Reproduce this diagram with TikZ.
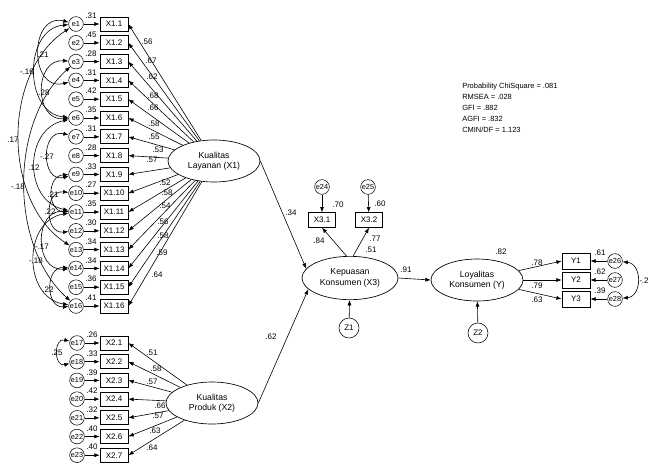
\documentclass[tikz,border=0pt]{standalone}
\usepackage{fontspec}
\setmainfont{Liberation Sans}
\usetikzlibrary{shapes.geometric,arrows.meta}
\begin{document}
\begin{tikzpicture}[x=0.75pt,y=-0.75pt,
  box/.style={draw, line width=0.5pt, minimum width=21pt, minimum height=10.5pt, inner sep=0pt, font=\fontsize{6}{6}\selectfont},
  err/.style={draw, line width=0.4pt, circle, minimum size=11pt, inner sep=0pt, font=\fontsize{5.5}{5.5}\selectfont},
  lat/.style={draw, line width=0.5pt, ellipse, minimum width=69pt, minimum height=31.5pt, inner sep=0pt, align=center, font=\fontsize{6.5}{7.8}\selectfont},
  lbl/.style={inner sep=0pt, font=\fontsize{6}{6}\selectfont},
  arr/.style={-{Latex[length=4pt,width=3pt]}, line width=0.45pt},
  cov/.style={{Latex[length=4pt,width=3pt]}-{Latex[length=4pt,width=3pt]}, line width=0.45pt}
]
\useasboundingbox (0,0) rectangle (649,464);

% ---- latent variables
\node[lat] (lay) at (214,161) {Kualitas\\Layanan (X1)};
\node[lat] (prod) at (212,403) {Kualitas\\Produk (X2)};
\node[lat, minimum width=72pt, minimum height=32.5pt] (kep) at (350,278) {Kepuasan\\Konsumen (X3)};
\node[lat] (loy) at (477,280) {Loyalitas\\Konsumen (Y)};

% ---- X1 indicators
\foreach \i/\v in {1/.31,2/.45,3/.28,4/.31,5/.42,6/.35,7/.31,8/.28,9/.33,10/.27,11/.35,12/.30,13/.34,14/.34,15/.36,16/.41} {
  \pgfmathsetmacro\yy{24+(\i-1)*18.8}
  \node[box] (xa\i) at (114,\yy) {X1.\i};
  \node[err] (ea\i) at (76,\yy) {e\i};
  \draw[arr] (ea\i) -- (xa\i);
  \node[lbl] (va\i) at (91,\yy-8) {\v};
  \draw[arr] (lay) -- (xa\i.east);
}
\foreach \i/\px/\py/\v in {1/147/42/.56,2/151/61/.67,3/152/77/.62,4/153/96/.68,5/153/108/.66,6/154/124/.58,7/154/137/.55,8/158/150/.53,9/152/160/.57,10/165/183/.52,11/167/193/.58,12/165/206/.54,13/163/222/.56,14/163/236/.58,15/162/253/.59,16/157/275/.64}
  \node[lbl] (la\i) at (\px,\py) {\v};

% ---- X2 indicators
\foreach \i/\v in {1/.26,2/.33,3/.39,4/.42,5/.32,6/.40,7/.40} {
  \pgfmathsetmacro\yy{343+(\i-1)*18.7}
  \pgfmathtruncatemacro\en{\i+16}
  \node[box] (xb\i) at (114,\yy) {X2.\i};
  \node[err] (eb\i) at (77,\yy) {e\en};
  \draw[arr] (eb\i) -- (xb\i);
  \node[lbl] (vb\i) at (92,\yy-8) {\v};
  \draw[arr] (prod) -- (xb\i.east);
}
\foreach \i/\px/\py/\v in {1/152/353/.51,2/156/369/.58,3/152/382/.57,4/160/406/.66,5/158/416/.57,6/155/431/.63,7/152/448/.64}
  \node[lbl] (lb\i) at (\px,\py) {\v};

% ---- covariances among errors
\draw[cov] (ea1) to[bend right=104, looseness=1.75] (ea4);
\draw[cov] (ea1) to[bend right=85, looseness=1.25] (ea6);
\draw[cov] (ea3) to[bend right=94, looseness=1.55] (ea6);
\draw[cov] (ea1) to[bend right=57, looseness=0.95] (ea13);
\draw[cov] (ea7) to[bend right=104, looseness=1.8] (ea9);
\draw[cov] (ea6) to[bend right=78, looseness=1.3] (ea11);
\draw[cov] (ea3) to[bend right=48, looseness=0.9] (ea16);
\draw[cov] (ea9) to[bend right=88, looseness=1.5] (ea11);
\draw[cov] (ea10) to[bend right=96, looseness=1.6] (ea12);
\draw[cov] (ea11) to[bend right=94, looseness=1.55] (ea14);
\draw[cov] (ea11) to[bend right=81, looseness=1.3] (ea16);
\draw[cov] (ea14) to[bend right=94, looseness=1.55] (ea16);
\draw[cov] (eb1) to[bend right=104, looseness=1.9] (eb2);
\foreach \i/\px/\py/\v in {1/43/55/.21,2/27/72/-.16,3/44/93/.28,4/13/140/.17,5/47/157/-.27,6/34/168/.12,7/18/187/-.18,8/53/195/.21,9/50/212/.22,10/42/247/-.17,11/36/261/-.18,12/48/290/.22,13/57/353/.25}
  \node[lbl] (lc\i) at (\px,\py) {\v};

% ---- structural paths
\draw[arr] (lay.east) -- (kep.168);
\draw[arr] (prod.east) -- (kep.195);
\draw[arr] (kep.east) -- (loy.west);
\node[lbl] (p1) at (291,213) {.34};
\node[lbl] (p2) at (271,337) {.62};
\node[lbl] (p3) at (406,270) {.91};
\node[lbl] (r3) at (371,250) {.51};
\node[lbl] (r4) at (501,252) {.82};

% ---- X3 indicators
\node[box, minimum width=20pt, minimum height=11pt] (x31) at (322,220) {X3.1};
\node[box, minimum width=20pt, minimum height=11pt] (x32) at (369,220) {X3.2};
\node[err] (e24) at (322,187) {e24};
\node[err] (e25) at (368,187) {e25};
\draw[arr] (e24) -- (x31);
\draw[arr] (e25) -- (x32);
\draw[arr] (kep.99) -- (x31.south);
\draw[arr] (kep.82) -- (x32.south);
\node[lbl] (v24) at (338,205) {.70};
\node[lbl] (v25) at (380,204) {.60};
\node[lbl] (l31) at (319,241) {.84};
\node[lbl] (l32) at (375,239) {.77};

% ---- disturbances
\node[err, minimum size=15pt, font=\fontsize{6}{6}\selectfont] (z1) at (349,328) {Z1};
\node[err, minimum size=15pt, font=\fontsize{6}{6}\selectfont] (z2) at (478,333) {Z2};
\draw[arr] (z1) -- (kep);
\draw[arr] (z2) -- (loy);

% ---- Y indicators
\foreach \i/\yy/\v in {1/261/.61,2/280/.62,3/299/.39} {
  \pgfmathtruncatemacro\en{\i+25}
  \node[box, minimum height=12pt] (y\i) at (576,\yy) {Y\i};
  \node[err] (ey\i) at (615,\yy) {e\en};
  \draw[arr] (ey\i) -- (y\i);
  \draw[arr] (loy) -- (y\i.west);
  \node[lbl] (vy\i) at (600,\yy-8) {\v};
}
\node[lbl] (ly1) at (537,263) {.78};
\node[lbl] (ly2) at (537,286) {.79};
\node[lbl] (ly3) at (537,300) {.63};
\draw[cov] (ey1) to[bend left=84, looseness=1.4] (ey3);
\node[lbl, anchor=west] (cy) at (639,281) {-.2};

% ---- fit indices
\node[anchor=north west, align=left, inner sep=0pt, font=\fontsize{5.6}{8.25}\selectfont] (fit) at (462,83)
  {Probability ChiSquare = .081\\RMSEA = .028\\GFI = .882\\AGFI = .832\\CMIN/DF = 1.123};
\end{tikzpicture}
\end{document}
